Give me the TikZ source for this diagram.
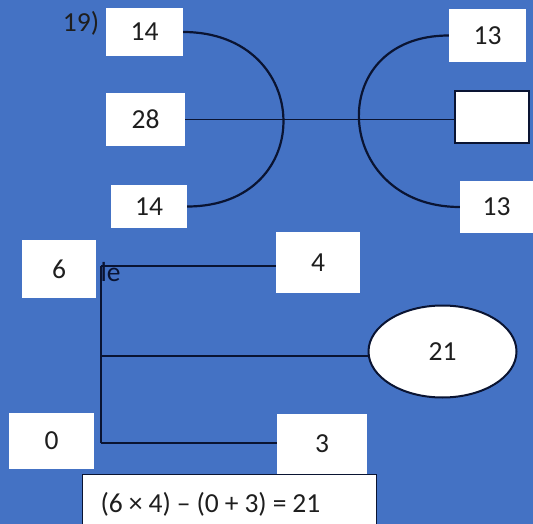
\documentclass[tikz,border=0pt]{standalone}
\usepackage{fontspec}
\setmainfont{Carlito}
\usetikzlibrary{shapes.geometric}
\definecolor{bgblue}{RGB}{68,114,196}
\definecolor{inkline}{RGB}{10,20,50}
\definecolor{txt}{RGB}{30,30,30}
\newcommand{\gp}{\hspace{6pt}}
\tikzset{
  lblfont/.style={font=\fontsize{27.5}{32}\selectfont},
  wbox/.style={fill=white, inner sep=0pt, text=txt, lblfont},
  obox/.style={wbox, draw=inkline, line width=1.2pt},
  conn/.style={draw=inkline, line width=1.8pt},
}
\begin{document}
\begin{tikzpicture}[x=1pt,y=-1pt]
\useasboundingbox (0,0) rectangle (533,524);
\fill[bgblue] (0,0) rectangle (533,524);

% top section
\node[text=txt, lblfont] (lab) at (81,23) {19)};
\node[wbox, minimum width=77pt, minimum height=48pt] (t14) at (144.5,32) {14};
\node[wbox, minimum width=79pt, minimum height=53pt] (n28) at (145.5,119.5) {28};
\node[wbox, minimum width=76pt, minimum height=43pt] (b14) at (149,206.5) {14};
\node[wbox, minimum width=77pt, minimum height=53pt] (t13) at (487.5,35.5) {13};
\node[obox, minimum width=74pt, minimum height=52pt] (emp) at (492,117) {};
\node[wbox, minimum width=73pt, minimum height=52pt] (b13) at (496.5,207) {13};

\draw[conn, line width=2.2pt] (t14.east) .. controls +(131,0) and +(131,0) .. (b14.east);
\draw[conn, line width=2.2pt] (t13.west) .. controls +(-127,0) and +(-127,0) .. (b13.west);
\draw[conn] (n28.east) -- (n28.east -| emp.west);

% bottom section
\node[anchor=base west, text=inkline, lblfont] (frag) at (97,281) {le};
\node[wbox, minimum width=74pt, minimum height=58pt] (n6) at (59,269) {6};
\node[wbox, minimum width=84pt, minimum height=61pt] (n4) at (318,262.5) {4};
\node[wbox, draw=inkline, line width=2pt, ellipse, minimum width=148pt, minimum height=92pt] (ell) at (442.5,351.5) {21};
\node[wbox, minimum width=85pt, minimum height=56pt] (n0) at (51.5,441) {0};
\node[wbox, minimum width=90pt, minimum height=60pt] (n3) at (322,444) {3};
\node[obox, anchor=north west, minimum width=294pt, minimum height=60pt,
      text width=258pt, align=left, inner xsep=18pt] (form) at (82,474)
      {(6\gp×\gp4)\gp–\gp(0\gp+\gp3)\gp=\gp21};

\coordinate (h1) at (101,266);
\coordinate (h2) at (101,356);
\coordinate (h3) at (101,443);
\draw[conn] (h1) -- (h3);
\draw[conn] (h1) -- (h1 -| n4.west);
\draw[conn] (h2) -- (h2 -| ell.west);
\draw[conn] (h3) -- (h3 -| n3.west);
\end{tikzpicture}
\end{document}
